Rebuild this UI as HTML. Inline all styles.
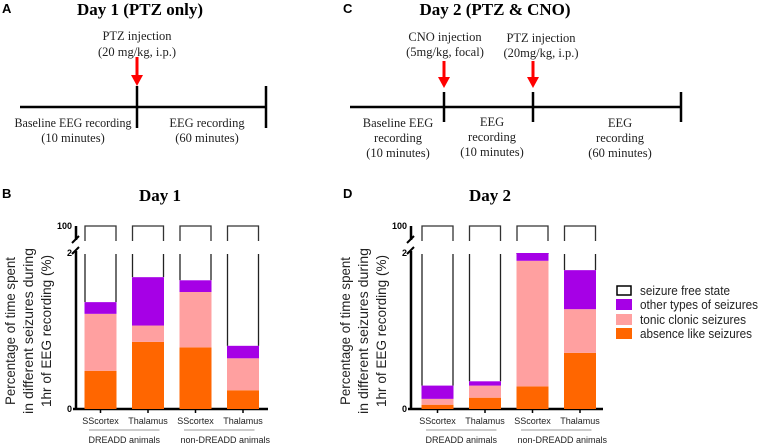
<!DOCTYPE html>
<html><head><meta charset="utf-8"><style>
body{margin:0;background:#fff}
svg{display:block}
.serif{font-family:"Liberation Serif",serif}
.sans{font-family:"Liberation Sans",sans-serif}
</style></head><body>
<svg id="fig" width="760" height="445" viewBox="0 0 760 445" xmlns="http://www.w3.org/2000/svg">
<g class="sans" font-weight="bold" font-size="13">
<text x="2" y="13">A</text>
<text x="343" y="13">C</text>
<text x="2" y="198">B</text>
<text x="343" y="198">D</text>
</g>
<g class="serif" font-weight="bold" font-size="17" text-anchor="middle">
<text x="140" y="15">Day 1 (PTZ only)</text>
<text x="495" y="15">Day 2 (PTZ &amp; CNO)</text>
<text x="160" y="201">Day 1</text>
<text x="490" y="201">Day 2</text>
</g>
<g stroke="#000" stroke-width="2.5">
<line x1="20" y1="107" x2="266" y2="107"/>
<line x1="137" y1="86" x2="137" y2="128"/>
<line x1="266" y1="86" x2="266" y2="128"/>
</g>
<g><line x1="137" y1="57" x2="137" y2="76" stroke="#f00" stroke-width="3"/><polygon points="131,75 143,75 137,86" fill="#f00"/></g>
<g class="serif" font-size="12.5" text-anchor="middle" fill="#222">
<text x="137" y="40">PTZ injection</text><text x="137" y="56">(20 mg/kg, i.p.)</text>
<text x="73" y="127" textLength="117" lengthAdjust="spacingAndGlyphs">Baseline EEG recording</text><text x="73" y="142">(10 minutes)</text>
<text x="207" y="127">EEG recording</text><text x="207" y="142">(60 minutes)</text>
</g>
<g stroke="#000" stroke-width="2.5">
<line x1="350" y1="107" x2="681" y2="107"/>
<line x1="444" y1="92" x2="444" y2="122"/>
<line x1="533" y1="92" x2="533" y2="122"/>
<line x1="681" y1="92" x2="681" y2="122"/>
</g>
<g><line x1="444" y1="61" x2="444" y2="78" stroke="#f00" stroke-width="3"/><polygon points="438,77 450,77 444,88" fill="#f00"/></g>
<g><line x1="533" y1="61" x2="533" y2="78" stroke="#f00" stroke-width="3"/><polygon points="527,77 539,77 533,88" fill="#f00"/></g>
<g class="serif" font-size="12.5" text-anchor="middle" fill="#222">
<text x="445" y="41">CNO injection</text><text x="445" y="56">(5mg/kg, focal)</text>
<text x="541" y="42">PTZ injection</text><text x="541" y="57">(20mg/kg, i.p.)</text>
<text x="398" y="127">Baseline EEG</text><text x="398" y="142">recording</text><text x="398" y="157">(10 minutes)</text>
<text x="492" y="126">EEG</text><text x="492" y="141">recording</text><text x="492" y="156">(10 minutes)</text>
<text x="620" y="127">EEG</text><text x="620" y="142">recording</text><text x="620" y="157">(60 minutes)</text>
</g>
<g class="sans" font-size="14" text-anchor="middle" fill="#222">
<text transform="translate(15,331) rotate(-90)" textLength="148" lengthAdjust="spacingAndGlyphs">Percentage of time spent</text>
<text transform="translate(33,331) rotate(-90)" textLength="166" lengthAdjust="spacingAndGlyphs">in different seizures during</text>
<text transform="translate(51,331) rotate(-90)" textLength="152" lengthAdjust="spacingAndGlyphs">1hr of EEG recording (%)</text>
</g>
<g class="sans" font-size="14" text-anchor="middle" fill="#222">
<text transform="translate(350,331) rotate(-90)" textLength="148" lengthAdjust="spacingAndGlyphs">Percentage of time spent</text>
<text transform="translate(368,331) rotate(-90)" textLength="166" lengthAdjust="spacingAndGlyphs">in different seizures during</text>
<text transform="translate(386,331) rotate(-90)" textLength="152" lengthAdjust="spacingAndGlyphs">1hr of EEG recording (%)</text>
</g>
<g id="chartB"></g>
<g id="chartD"></g>
<g class="sans" font-size="13" fill="#222">
<g><rect x="617" y="286" width="14" height="9" fill="#fff" stroke="#000" stroke-width="1.5"/><text x="640" y="295" textLength="90" lengthAdjust="spacingAndGlyphs">seizure free state</text></g>
<g><rect x="616" y="299" width="16" height="11" fill="#a600e6"/><text x="640" y="309" textLength="118" lengthAdjust="spacingAndGlyphs">other types of seizures</text></g>
<g><rect x="616" y="314" width="16" height="11" fill="#ffa0a0"/><text x="640" y="324" textLength="106" lengthAdjust="spacingAndGlyphs">tonic clonic seizures</text></g>
<g><rect x="616" y="328" width="16" height="11" fill="#ff6600"/><text x="640" y="338" textLength="112" lengthAdjust="spacingAndGlyphs">absence like seizures</text></g>
</g>
</svg>
<script>
const categories = ["SScortex","Thalamus","SScortex","Thalamus"];
const groups = ["DREADD animals","non-DREADD animals"];
const day1Absence = [0.49, 0.86, 0.79, 0.24];
const day1Tonic = [0.73, 0.21, 0.71, 0.41];
const day1Other = [0.15, 0.62, 0.15, 0.16];
const day2Absence = [0.055, 0.145, 0.29, 0.72];
const day2Tonic = [0.075, 0.155, 1.61, 0.56];
const day2Other = [0.17, 0.055, 0.10, 0.50];
const yTicks = ["0","2","100"];
const NS="http://www.w3.org/2000/svg";
function mk(tag, attrs, parent){const e=document.createElementNS(NS,tag);for(const k in attrs)e.setAttribute(k,attrs[k]);parent.appendChild(e);return e;}
function draw(g, axisX, barX0, abs, ton, oth){
  const y0=409, y2=253, yScale=v=>y0-(v/2)*(y0-y2);
  const barW=31, step=47.5;
  const xb=i=>barX0+i*step;
  let ax=mk('path',{d:`M${axisX},${y0} L${axisX},251 M${axisX},240 L${axisX},226 M${axisX-3},${y0} L${axisX+192},${y0}`,stroke:'#000','stroke-width':2.5,fill:'none'},g);
  
  
  const br=mk('path',{d:`M${axisX-4},243 L${axisX+3},236 M${axisX-4},254 L${axisX+3},247`,stroke:'#000','stroke-width':2,fill:'none'},g);
  
  
  const tickY=[y0,y2,226];
  yTicks.forEach((t,i)=>{const tx=mk('text',{x:axisX-4,y:tickY[i]+3,'text-anchor':'end','font-size':9,'font-weight':'bold','font-family':'Liberation Sans, sans-serif'},g);tx.textContent=t;
    
    });
  categories.forEach((c,i)=>{
    const x=xb(i);
    const a=abs[i], t=ton[i], o=oth[i];
    const top=a+t+o;
    const ub=mk('path',{d:`M${x},241 L${x},226 L${x+barW},226 L${x+barW},241`,stroke:'#333','stroke-width':1.3,fill:'none'},g);
    
    
    const lb=mk('path',{d:`M${x},254 L${x},${yScale(top)} M${x+barW},254 L${x+barW},${yScale(top)}`,stroke:'#222','stroke-width':1.3,fill:'none'},g);
    
    
    const segs=[[0,a,'#ff6600','bar-absence'],[a,a+t,'#ffa0a0','bar-tonic'],[a+t,top,'#a600e6','bar-other']];
    segs.forEach(s=>{const r=mk('rect',{x:x-0.5,y:yScale(s[1]),width:barW+1,height:Math.max(0,yScale(s[0])-yScale(s[1])),fill:s[2]},g);
      
      });
    const tk=mk('line',{x1:x+barW/2,y1:y0,x2:x+barW/2,y2:y0+4,stroke:'#000','stroke-width':1.5},g);
    
    
    const lab=mk('text',{x:x+barW/2,y:424,'text-anchor':'middle','font-size':9,'font-family':'Liberation Sans, sans-serif',fill:'#222'},g);
    lab.textContent=c;
    
    
  });
  groups.forEach((gr,j)=>{
    const xa=xb(2*j)+4, xe=xb(2*j+1)+barW-4;
    const ln=mk('line',{x1:xa,y1:430,x2:xe,y2:430,stroke:'#999','stroke-width':1},g);
    
    
    const tx=mk('text',{x:(xa+xe)/2+(j?6:0),y:443,'text-anchor':'middle','font-size':9,'font-family':'Liberation Sans, sans-serif',fill:'#222'},g);
    tx.textContent=gr;
    
    
  });
}
draw(document.getElementById('chartB'),76,85,day1Absence,day1Tonic,day1Other);
draw(document.getElementById('chartD'),411,422,day2Absence,day2Tonic,day2Other);
</script>
</body></html>
